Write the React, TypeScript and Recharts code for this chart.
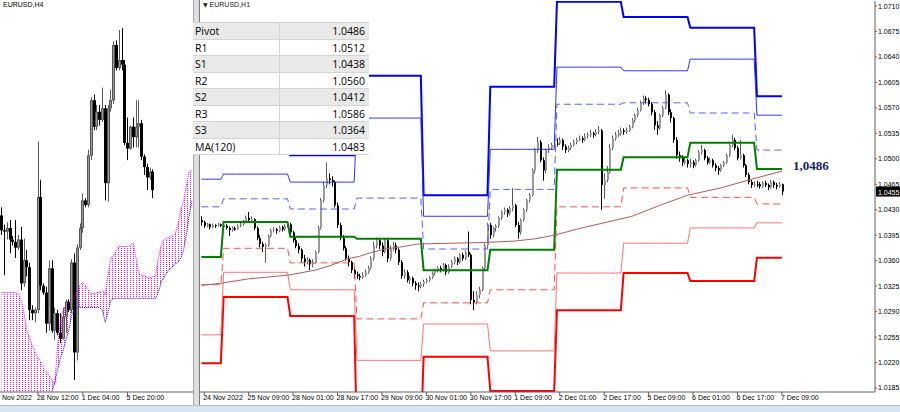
import React from 'react';
import { ComposedChart, Bar, Line, Area, XAxis, YAxis, ReferenceLine, ReferenceDot } from 'recharts';

// EURUSD H1 candles, one array per trading day: [open, high, low, close] in pips above 1.0000
const h1Nov24 = [
  [416, 421, 408, 413], [413, 415, 405, 408], [408, 412, 406, 410], [410, 411, 403, 406],
  [406, 411, 405, 409], [409, 410, 405, 408], [408, 412, 407, 410], [410, 411, 406, 408],
];
const h1Nov25 = [
  [408, 412, 405, 408], [408, 410, 403, 405], [405, 407, 394, 402], [402, 407, 400, 405],
  [405, 407, 401, 403], [403, 410, 402, 408], [408, 412, 406, 410], [410, 416, 408, 414],
  [414, 422, 412, 419], [419, 427, 414, 416], [416, 421, 412, 417], [417, 418, 402, 405],
  [405, 407, 388, 391], [391, 395, 378, 383], [383, 386, 372, 379], [379, 384, 357, 381],
  [381, 396, 379, 394], [394, 404, 392, 402], [402, 406, 399, 403], [403, 405, 397, 401],
  [401, 408, 399, 406], [406, 408, 400, 403], [403, 410, 401, 408], [408, 414, 406, 410],
];
const h1Nov28 = [
  [410, 412, 396, 399], [399, 401, 385, 388], [388, 392, 377, 380], [380, 384, 370, 375],
  [375, 377, 358, 363], [363, 368, 352, 358], [358, 365, 355, 361], [361, 363, 347, 355],
  [355, 362, 351, 358], [358, 374, 356, 372], [372, 408, 370, 405], [405, 446, 403, 443],
  [443, 468, 440, 464], [464, 495, 460, 473], [473, 480, 465, 471], [471, 476, 462, 468],
  [468, 470, 433, 436], [436, 440, 405, 409], [409, 412, 388, 391], [391, 395, 374, 377],
  [377, 380, 360, 363], [363, 367, 352, 358], [358, 360, 343, 347], [347, 350, 336, 341],
];
const h1Nov29 = [
  [341, 345, 335, 339], [339, 342, 333, 337], [337, 344, 335, 340], [340, 348, 338, 344],
  [344, 353, 342, 350], [350, 366, 348, 363], [363, 386, 360, 381], [381, 392, 377, 388],
  [388, 390, 376, 381], [381, 385, 366, 372], [372, 391, 370, 388], [388, 390, 358, 363],
  [363, 381, 360, 377], [377, 386, 374, 381], [381, 385, 370, 375], [375, 377, 354, 358],
  [358, 361, 335, 339], [339, 348, 335, 344], [344, 347, 330, 333], [333, 339, 328, 336],
  [336, 338, 325, 329], [329, 332, 320, 326], [326, 330, 318, 325], [325, 331, 322, 328],
];
const h1Nov30 = [
  [328, 334, 324, 331], [331, 336, 329, 333], [333, 339, 331, 337], [337, 345, 335, 343],
  [343, 349, 340, 347], [347, 352, 344, 350], [350, 353, 344, 347], [347, 357, 345, 354],
  [354, 356, 340, 344], [344, 355, 342, 352], [352, 361, 350, 358], [358, 366, 355, 363],
  [363, 365, 354, 358], [358, 370, 356, 368], [368, 371, 360, 363], [363, 374, 361, 372],
  [372, 400, 365, 368], [368, 370, 300, 306], [306, 318, 292, 303], [303, 318, 300, 313],
  [313, 324, 308, 320], [320, 352, 318, 350], [350, 384, 347, 381], [381, 412, 378, 409],
];
const h1Dec01 = [
  [409, 412, 390, 395], [395, 407, 392, 405], [405, 410, 400, 408], [408, 421, 405, 419],
  [419, 429, 416, 427], [427, 433, 423, 430], [430, 432, 420, 425], [425, 435, 422, 432],
  [432, 460, 428, 436], [436, 438, 406, 409], [409, 413, 390, 399], [399, 418, 396, 416],
  [416, 432, 414, 430], [430, 445, 427, 443], [443, 453, 440, 450], [450, 487, 448, 484],
  [484, 515, 480, 512], [512, 530, 508, 523], [523, 526, 495, 498], [498, 502, 470, 484],
  [484, 514, 480, 512], [512, 520, 508, 515], [515, 522, 512, 519], [519, 525, 516, 521],
];
const h1Dec02 = [
  [521, 528, 517, 521], [521, 530, 519, 526], [526, 528, 512, 517], [517, 520, 508, 512],
  [512, 518, 509, 515], [515, 522, 512, 519], [519, 526, 517, 523], [523, 529, 520, 526],
  [526, 532, 524, 528], [528, 531, 522, 526], [526, 535, 524, 531], [531, 536, 528, 533],
  [533, 540, 530, 535], [535, 537, 529, 533], [533, 541, 531, 537], [537, 545, 534, 539],
  [539, 541, 430, 464], [464, 480, 445, 471], [471, 490, 468, 482], [482, 520, 480, 515],
  [515, 532, 512, 528], [528, 537, 525, 533], [533, 540, 530, 535], [535, 543, 532, 539],
];
const h1Dec05 = [
  [539, 542, 533, 537], [537, 543, 534, 539], [539, 547, 537, 544], [544, 556, 542, 553],
  [553, 562, 550, 560], [560, 570, 557, 567], [567, 580, 565, 577], [577, 587, 574, 583],
  [583, 586, 576, 581], [581, 584, 572, 575], [575, 578, 560, 564], [564, 567, 540, 546],
  [546, 552, 533, 542], [542, 562, 540, 560], [560, 573, 557, 570], [570, 594, 568, 588],
  [588, 590, 560, 564], [564, 568, 550, 556], [556, 558, 522, 526], [526, 530, 500, 505],
  [505, 510, 496, 501], [501, 505, 490, 495], [495, 502, 492, 498], [498, 500, 488, 493],
];
const h1Dec06 = [
  [493, 500, 488, 495], [495, 498, 487, 491], [491, 500, 489, 498], [498, 512, 496, 509],
  [509, 519, 506, 512], [512, 514, 498, 501], [501, 504, 492, 495], [495, 502, 493, 498],
  [498, 500, 488, 491], [491, 494, 483, 487], [487, 490, 478, 484], [484, 493, 482, 491],
  [491, 497, 489, 495], [495, 507, 493, 505], [505, 522, 503, 519], [519, 533, 516, 526],
  [526, 529, 512, 515], [515, 518, 498, 501], [501, 526, 499, 505], [505, 507, 488, 491],
  [491, 493, 475, 478], [478, 481, 465, 468], [468, 471, 460, 464], [464, 469, 461, 465],
];
const h1Dec07 = [
  [465, 470, 461, 465], [465, 468, 459, 462], [462, 469, 460, 467], [467, 470, 461, 464],
  [464, 466, 457, 461], [461, 471, 459, 468], [468, 470, 460, 464], [464, 467, 458, 462],
  [462, 468, 460, 465], [465, 466, 450, 455],
];

// daily pivot levels, one value per day above
const pivotR3 = [1.0541, 1.0512, 1.0505, 1.0614, 1.045, 1.0599, 1.0716, 1.0695, 1.068, 1.0586];
const pivotR2 = [1.0472, 1.0479, 1.0468, 1.0556, 1.0421, 1.0513, 1.0626, 1.0621, 1.0637, 1.056];
const pivotR1 = [1.0434, 1.0445, 1.0431, 1.0446, 1.0376, 1.0458, 1.0575, 1.0577, 1.0563, 1.0512];
const pivotPP = [1.0365, 1.0413, 1.0393, 1.039, 1.0347, 1.0375, 1.0485, 1.0502, 1.0522, 1.0486];
const pivotS1 = [1.0327, 1.0377, 1.0357, 1.028, 1.0302, 1.032, 1.0434, 1.046, 1.0447, 1.0438];
const pivotS2 = [1.0258, 1.0344, 1.032, 1.0223, 1.0273, 1.0236, 1.0343, 1.0384, 1.0405, 1.0412];
const pivotS3 = [1.0219, 1.031, 1.0284, 1.0114, 1.0228, 1.0181, 1.0292, 1.0343, 1.0332, 1.0364];

// MA(120) read at some bars (bar index, pips)
const maBars = [0, 7, 17, 31, 41, 47, 53, 57, 60, 66, 72, 78, 90, 102, 113, 120, 127, 137, 146, 155, 165, 175, 187, 199, 209];
const maPips = [326, 329, 335, 340, 347, 354, 363, 366, 370, 376, 379, 383, 384, 385, 387, 390, 395, 405, 413, 421, 436, 450, 460, 473, 483];

const h1TickBars = [1, 17, 33, 49, 65, 81, 97, 113, 129, 145, 161, 177, 193, 209];
const h1TickLabels = [
  '24 Nov 2022', '25 Nov 09:00', '28 Nov 01:00', '28 Nov 17:00', '29 Nov 09:00', '30 Nov 01:00', '30 Nov 17:00',
  '1 Dec 09:00', '2 Dec 01:00', '2 Dec 17:00', '5 Dec 09:00', '6 Dec 01:00', '6 Dec 17:00', '7 Dec 09:00',
];
const priceTicks = [
  1.0185, 1.022, 1.0255, 1.029, 1.0325, 1.036, 1.0395, 1.043, 1.0465, 1.05, 1.0535, 1.057, 1.0605, 1.064, 1.0675, 1.071,
];

const tableNames = ['Pivot', 'R1', 'S1', 'R2', 'S2', 'R3', 'S3', 'MA(120)'];
const tableValues = ['1.0486', '1.0512', '1.0438', '1.0560', '1.0412', '1.0586', '1.0364', '1.0483'];
const lastPrice = 1.0455;

// EURUSD H4 candles [open, high, low, close] in pips
const h4Nov24_25 = [
  [433, 440, 416, 420], [420, 425, 381, 419], [419, 427, 412, 422], [422, 429, 400, 412], [412, 415, 407, 410],
  [410, 429, 396, 405], [405, 416, 403, 412], [412, 423, 368, 374], [374, 413, 371, 394], [394, 403, 380, 388],
];
const h4Nov28_Dec02 = [
  [388, 392, 342, 351], [351, 355, 342, 348], [348, 353, 340, 351], [351, 497, 348, 449], [449, 464, 368, 372],
  [372, 374, 364, 366], [366, 371, 331, 339], [339, 394, 333, 387], [387, 394, 331, 333], [333, 353, 325, 348],
  [348, 351, 329, 331], [331, 348, 322, 326], [326, 353, 325, 345], [345, 360, 331, 358], [358, 360, 349, 351],
  [351, 395, 348, 392], [392, 400, 290, 314], [314, 408, 307, 405], [405, 426, 403, 422], [422, 452, 418, 446],
  [446, 448, 440, 442], [442, 490, 440, 485], [485, 536, 481, 533], [533, 538, 507, 510], [510, 529, 507, 523],
  [523, 529, 511, 516], [516, 544, 514, 526], [526, 529, 446, 461], [461, 529, 445, 526], [526, 542, 523, 533],
];
const h4Dec05_07 = [
  [533, 584, 530, 581], [581, 585, 559, 561], [561, 594, 559, 568], [568, 596, 559, 564], [564, 568, 494, 496],
  [496, 518, 481, 491], [491, 511, 490, 510], [510, 518, 492, 501], [501, 533, 492, 510], [510, 533, 492, 513],
  [513, 516, 481, 484], [484, 486, 468, 475], [475, 478, 455, 466], [466, 474, 464, 471], [471, 473, 448, 455],
];

// Ichimoku cloud edges (pips), H4 bars 0..68
const kumoA = [
  366, 366, 366, 366, 366, 366, 365, 359, 348, 333, 327, 320, 314, 309, 306, 300, 297, 294, 290, 286,
  320, 342, 351, 355, 357, 359, 362, 368, 372, 375, 372, 368, 365, 365, 366, 366, 368, 364, 381, 396,
  398, 403, 406, 406, 406, 406, 407, 409, 396, 383, 381, 381, 379, 379, 380, 381, 396, 407, 412, 413,
  414, 415, 417, 425, 438, 446, 459, 471, 472,
];
const kumoB = [
  255, 255, 255, 255, 255, 255, 255, 255, 255, 255, 260, 262, 264, 266, 268, 270, 273, 276, 280, 288,
  299, 309, 316, 325, 333, 346, 352, 353, 353, 353, 353, 353, 353, 353, 353, 353, 351, 340, 349, 359,
  361, 361, 361, 361, 361, 361, 361, 361, 361, 361, 361, 361, 361, 361, 361, 361, 366, 375, 379, 383,
  386, 388, 391, 392, 396, 403, 416, 433, 446,
];
// the first H4 label is cut by the window edge, only "Nov 2022" shows
const h4TickBars = [-3, 13, 29, 45];
const h4TickLabels = ['Nov 2022', '28 Nov 12:00', '1 Dec 04:00', '5 Dec 20:00'];

const toPrice = (p: number) => Math.round((1 + p / 10000) * 1e5) / 1e5;

const H1_SLOTS = 243;
const h1Days = [h1Nov24, h1Nov25, h1Nov28, h1Nov29, h1Nov30, h1Dec01, h1Dec02, h1Dec05, h1Dec06, h1Dec07];
const h1Data: any[] = [];
h1Days.forEach((day, d) => {
  day.forEach(([o, h, l, c]) => {
    h1Data.push({
      i: h1Data.length,
      o: toPrice(o), h: toPrice(h), l: toPrice(l), c: toPrice(c),
      r3: pivotR3[d], r2: pivotR2[d], r1: pivotR1[d], pp: pivotPP[d],
      s1: pivotS1[d], s2: pivotS2[d], s3: pivotS3[d], ma: null,
    });
  });
});
const lastBar = h1Data.length - 1;
while (h1Data.length < H1_SLOTS) h1Data.push({ i: h1Data.length });
maBars.forEach((b, k) => {
  h1Data[b].ma = toPrice(maPips[k]);
});

const h4Bars = [...h4Nov24_25, ...h4Nov28_Dec02, ...h4Dec05_07];
const h4Data: any[] = [];
for (let j = -4; j <= 68; j++) {
  const row: any = { j };
  if (j >= 0 && j < h4Bars.length) {
    const [o, h, l, c] = h4Bars[j];
    Object.assign(row, { o: toPrice(o), h: toPrice(h), l: toPrice(l), c: toPrice(c) });
  }
  if (j >= 0 && j < kumoA.length) {
    row.a = toPrice(kumoA[j]);
    row.b = toPrice(kumoB[j]);
  }
  h4Data.push(row);
}

const AXIS_FONT = 'Liberation Sans, Arial, sans-serif';

const Candle = (props: any) => {
  const { x, y, width, height, payload, bw = 2 } = props;
  if (!payload || payload.h == null || y == null) return null;
  const top = Math.min(y, y + height);
  const span = Math.abs(height);
  const range = payload.h - payload.l;
  const yOf = (v: number) => (range === 0 ? top : top + ((payload.h - v) / range) * span);
  const cx = Math.floor(x + width / 2);
  const up = payload.c > payload.o;
  const bTop = yOf(Math.max(payload.o, payload.c));
  const bBot = yOf(Math.min(payload.o, payload.c));
  const wick = up ? '#5a5a5a' : '#000000';
  const left = bw === 3 ? cx - 1 : cx;
  return (
    <g>
      <line x1={cx + 0.5} x2={cx + 0.5} y1={top} y2={top + Math.max(span, 1)} stroke={wick} strokeWidth={1} />
      <rect x={left} y={bTop} width={bw} height={Math.max(1, bBot - bTop)} fill={up ? '#9a9a9a' : '#000000'} />
      {up && bw === 3 && (
        <rect x={left + 0.5} y={bTop + 0.5} width={bw - 1} height={Math.max(0, bBot - bTop - 1)}
          fill="none" stroke="#555" strokeWidth={1} />
      )}
    </g>
  );
};

const makeTimeTick = (bars: number[], labels: string[], minX: number) => (props: any) => {
  const { x, y, payload } = props;
  const k = bars.indexOf(payload.value);
  if (k < 0) return null;
  return (
    <text x={Math.max(x - 1, minX)} y={y} dy="0.71em" fontSize={7} fontFamily={AXIS_FONT} fill="#000" textAnchor="start">
      {labels[k]}
    </text>
  );
};
const H1Tick = makeTimeTick(h1TickBars, h1TickLabels, 0);
const H4Tick = makeTimeTick(h4TickBars, h4TickLabels, 13);

const PriceBox = (props: any) => {
  const { viewBox } = props;
  if (!viewBox) return null;
  const bx = viewBox.x + viewBox.width + 1;
  return (
    <g>
      <rect x={bx} y={viewBox.y - 5} width={25} height={10} fill="#000" />
      <text x={bx + 2} y={viewBox.y + 3} fontSize={7} fontFamily={AXIS_FONT} fill="#fff">
        {lastPrice.toFixed(4)}
      </text>
    </g>
  );
};

const PivotTag = (props: any) => {
  const { viewBox } = props;
  if (!viewBox) return null;
  return (
    <text x={viewBox.x + 11} y={viewBox.y + 1} fontSize={13} fontWeight="bold" fill="#1b1b6b"
      fontFamily="Liberation Serif, DejaVu Serif, serif">
      1,0486
    </text>
  );
};

const levelLine = (key: string, color: string, width: number, dash?: string) => (
  <Line key={key} dataKey={key} type="linear" stroke={color} strokeWidth={width} strokeDasharray={dash}
    dot={false} activeDot={false} isAnimationActive={false} />
);

export default function App() {
  return (
    <div style={{ position: 'fixed', left: 0, top: 0, width: 900, height: 412, background: '#fff', overflow: 'hidden' }}>
      {/* H4 window */}
      <div style={{ position: 'absolute', left: -11, top: 0 }}>
        <ComposedChart width={204.4} height={412} data={h4Data} margin={{ top: 0, right: 0, left: 0, bottom: 0 }} barCategoryGap={0}>
          <defs>
            <pattern id="kumoDots" x="0" y="0" width="3" height="2" patternUnits="userSpaceOnUse">
              <rect x="0" y="0" width="1" height="1" fill="#ff00ff" />
            </pattern>
          </defs>
          <XAxis dataKey="j" type="category" ticks={h4TickBars} interval={0} height={20}
            tick={H4Tick} tickSize={3} tickMargin={0} stroke="#606060" />
          <YAxis hide type="number" domain={[1.02796, 1.06201]} allowDataOverflow />
          <Area dataKey={(d: any) => (d.a != null ? [d.b, d.a] : null)} type="linear" stroke="none"
            fill="url(#kumoDots)" fillOpacity={1} dot={false} activeDot={false} isAnimationActive={false} />
          <Line dataKey="a" type="linear" stroke="#ff00ff" strokeWidth={1} strokeDasharray="1 1"
            dot={false} activeDot={false} isAnimationActive={false} />
          <Line dataKey="b" type="linear" stroke="#0000ff" strokeWidth={1} strokeDasharray="1 1"
            dot={false} activeDot={false} isAnimationActive={false} />
          <Bar dataKey={(d: any) => (d.h != null ? [d.l, d.h] : null)} shape={<Candle bw={3} />} isAnimationActive={false} />
        </ComposedChart>
      </div>
      <div style={{ position: 'absolute', left: 3, top: 1, fontSize: 7, fontFamily: AXIS_FONT, color: '#000' }}>
        EURUSD,H4
      </div>

      {/* window separator */}
      <div style={{ position: 'absolute', left: 193, top: 0, width: 5, height: 405, background: '#dedede',
        borderLeft: '1px solid #a8a8a8', borderRight: '1px solid #7c7c7c' }} />

      {/* H1 window */}
      <div style={{ position: 'absolute', left: 200, top: 0 }}>
        <ComposedChart width={700} height={412} data={h1Data} margin={{ top: 1, right: 0, left: 0, bottom: 0 }} barCategoryGap={0}>
          <XAxis dataKey="i" type="category" ticks={h1TickBars} interval={0} height={20}
            tick={H1Tick} tickSize={3} tickMargin={0} stroke="#606060" />
          <YAxis orientation="right" type="number" width={25} domain={[1.01795, 1.07169]} allowDataOverflow
            ticks={priceTicks} interval={0} tickSize={2} tickMargin={1} stroke="#606060"
            tickFormatter={(v: number) => v.toFixed(4)}
            tick={{ fontSize: 7, fontFamily: AXIS_FONT, fill: '#000' }} />
          {levelLine('s3', '#ff0000', 2)}
          {levelLine('s2', '#ff7070', 1)}
          {levelLine('s1', '#ff4a4a', 1, '7 4')}
          {levelLine('r3', '#0000ff', 2)}
          {levelLine('r2', '#3030ff', 1)}
          {levelLine('r1', '#5a5aff', 1, '7 4')}
          {levelLine('pp', '#008000', 2)}
          <Line dataKey="ma" type="linear" connectNulls stroke="#b45a5a" strokeWidth={1}
            dot={false} activeDot={false} isAnimationActive={false} />
          <Bar dataKey={(d: any) => (d.h != null ? [d.l, d.h] : null)} shape={<Candle bw={2} />} isAnimationActive={false} />
          <ReferenceLine y={lastPrice} stroke="none" label={<PriceBox />} />
          <ReferenceDot x={lastBar} y={pivotPP[pivotPP.length - 1]} r={0} stroke="none" fill="none" label={<PivotTag />} />
        </ComposedChart>
      </div>
      <div style={{ position: 'absolute', left: 203, top: 1, fontSize: 7, fontFamily: AXIS_FONT, color: '#222' }}>
        <span style={{ fontFamily: 'DejaVu Sans', fontSize: 6 }}>▼</span> EURUSD,H1
      </div>

      {/* pivot table */}
      <div style={{ position: 'absolute', left: 193, top: 22, width: 176, fontFamily: 'Open Sans, sans-serif',
        fontSize: 10.5, color: '#000', borderTop: '1px solid #d4d4d4' }}>
        {tableNames.map((name, k) => (
          <div key={name} style={{ display: 'flex', height: 16.5, lineHeight: '16px', boxSizing: 'border-box',
            background: k % 2 === 0 ? '#e9e9e9' : '#ffffff', borderBottom: '1px solid #d4d4d4' }}>
            <div style={{ width: 84, paddingLeft: 2, borderRight: '1px solid #d4d4d4' }}>{name}</div>
            <div style={{ flex: 1, textAlign: 'right', paddingRight: 4 }}>{tableValues[k]}</div>
          </div>
        ))}
      </div>

      {/* bottom status strip */}
      <div style={{ position: 'absolute', left: 0, top: 405, width: 900, height: 7, background: '#d9e4f1',
        borderTop: '1px solid #b3c3d8' }} />
    </div>
  );
}
